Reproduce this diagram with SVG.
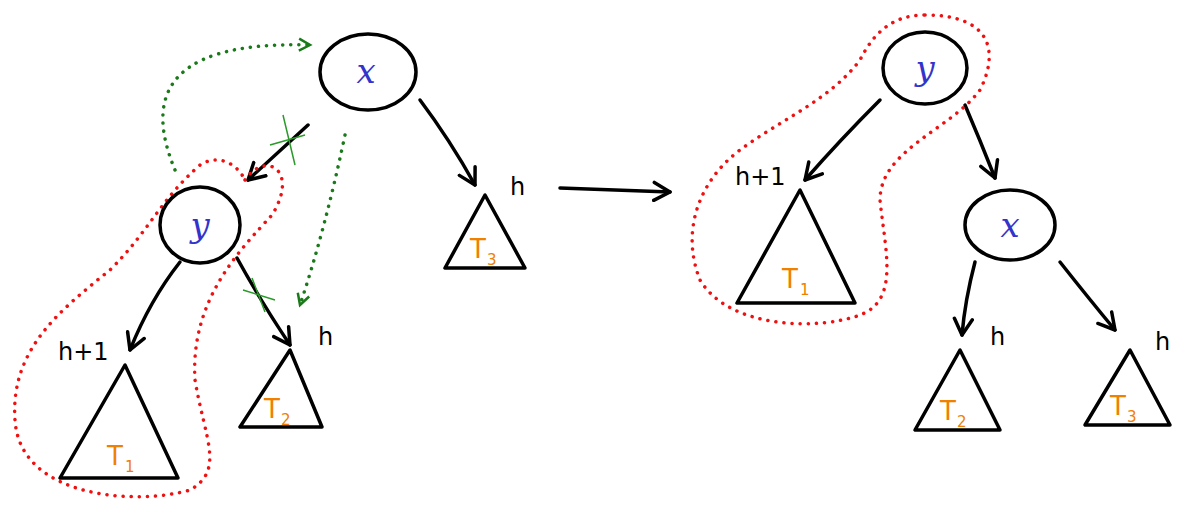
<svg xmlns="http://www.w3.org/2000/svg" width="1188" height="519" viewBox="0 0 1188 519">
<style>
.n{fill:none;stroke:#000;stroke-width:3.5;stroke-linecap:round;stroke-linejoin:round}
.r{fill:none;stroke:#e11;stroke-width:3.5;stroke-dasharray:0.1 8;stroke-linecap:round}
.g{fill:none;stroke:#1a7a1a;stroke-width:3.5;stroke-dasharray:0.1 8;stroke-linecap:round}
.gx{stroke:#2a9a2a;stroke-width:1.5}
.v{font-family:"DejaVu Serif",serif;font-style:italic;font-size:34px;fill:#3333cc;text-anchor:middle}
.t{font-family:"DejaVu Sans",sans-serif;font-size:26px;fill:#f08000;text-anchor:middle}
.s{font-family:"DejaVu Sans",sans-serif;font-size:15px;fill:#f08000}
.h{font-family:"DejaVu Sans",sans-serif;font-size:24px;fill:#000}
</style>
<defs>
<marker id="a" markerWidth="22" markerHeight="22" refX="18" refY="11" orient="auto" markerUnits="userSpaceOnUse" viewBox="0 0 22 22"><path d="M2,2 L18,11 L2,20" fill="none" stroke="#000" stroke-width="3.5" stroke-linecap="round" stroke-linejoin="round"/></marker>
<marker id="ag" markerWidth="16" markerHeight="16" refX="13" refY="8" orient="auto" markerUnits="userSpaceOnUse" viewBox="0 0 16 16"><path d="M2,2 L13,8 L2,14" fill="none" stroke="#1a7a1a" stroke-width="2.5"/></marker>
</defs>
<g id="connectors">
<path class="n" d="M308,125 L248,180" marker-end="url(#a)"/>
<path class="n" d="M420,100 Q450,140 475,185" marker-end="url(#a)"/>
<path class="n" d="M180,262 Q150,300 130,350" marker-end="url(#a)"/>
<path class="n" d="M237,258 Q260,300 290,345" marker-end="url(#a)"/>
<path class="n" d="M560,188 L670,192" marker-end="url(#a)"/>
<path class="n" d="M880,100 Q840,140 805,180" marker-end="url(#a)"/>
<path class="n" d="M965,105 Q980,140 995,178" marker-end="url(#a)"/>
<path class="n" d="M975,262 Q965,300 962,335" marker-end="url(#a)"/>
<path class="n" d="M1060,262 Q1090,300 1115,330" marker-end="url(#a)"/>
<path class="g" d="M175,170 C150,110 150,40 310,45" marker-end="url(#ag)"/>
<path class="g" d="M345,135 Q325,230 300,305" marker-end="url(#ag)"/>
<path class="gx" d="M283,115 L295,165 M270,145 L305,135 M243,290 L275,300 M252,278 L265,312"/>
<path class="r" d="M245,180 C265,150 300,170 272,215 C240,250 190,300 195,380 C205,440 225,470 190,490 C140,505 20,500 15,420 C10,350 60,310 110,270 C150,230 160,200 200,165 C215,155 235,160 245,180"/>
<path class="r" d="M925,15 C990,15 1000,50 980,90 C950,130 880,150 880,200 C885,250 900,300 860,315 C820,330 730,330 700,280 C680,230 700,180 740,150 C780,120 830,100 860,60 C875,30 895,15 925,15"/>
</g>
<g id="x-left"><ellipse class="n" cx="368" cy="72" rx="48" ry="38"/><text class="v" x="366" y="83">x</text></g>
<g id="y-left"><ellipse class="n" cx="200" cy="225" rx="40" ry="38"/><text class="v" x="200" y="237">y</text></g>
<g id="T3-left"><path class="n" d="M485,195 L445,268 L525,268 Z"/><text class="t" x="478" y="258">T</text><text class="s" x="487" y="265">3</text><text class="h" x="510" y="195">h</text></g>
<g id="T1-left"><path class="n" d="M125,365 L60,478 L178,478 Z"/><text class="t" x="115" y="465">T</text><text class="s" x="125" y="472">1</text><text class="h" x="58" y="360">h+1</text></g>
<g id="T2-left"><path class="n" d="M290,350 L240,427 L322,427 Z"/><text class="t" x="272" y="418">T</text><text class="s" x="281" y="425">2</text><text class="h" x="318" y="345">h</text></g>
<g id="y-right"><ellipse class="n" cx="925" cy="68" rx="42" ry="36"/><text class="v" x="925" y="80">y</text></g>
<g id="x-right"><ellipse class="n" cx="1010" cy="225" rx="45" ry="35"/><text class="v" x="1010" y="237">x</text></g>
<g id="T1-right"><path class="n" d="M800,190 L737,303 L855,303 Z"/><text class="t" x="790" y="288">T</text><text class="s" x="800" y="295">1</text><text class="h" x="735" y="185">h+1</text></g>
<g id="T2-right"><path class="n" d="M960,350 L915,430 L1000,430 Z"/><text class="t" x="948" y="420">T</text><text class="s" x="957" y="427">2</text><text class="h" x="990" y="345">h</text></g>
<g id="T3-right"><path class="n" d="M1130,350 L1085,425 L1170,425 Z"/><text class="t" x="1118" y="415">T</text><text class="s" x="1127" y="422">3</text><text class="h" x="1155" y="350">h</text></g>
</svg>
